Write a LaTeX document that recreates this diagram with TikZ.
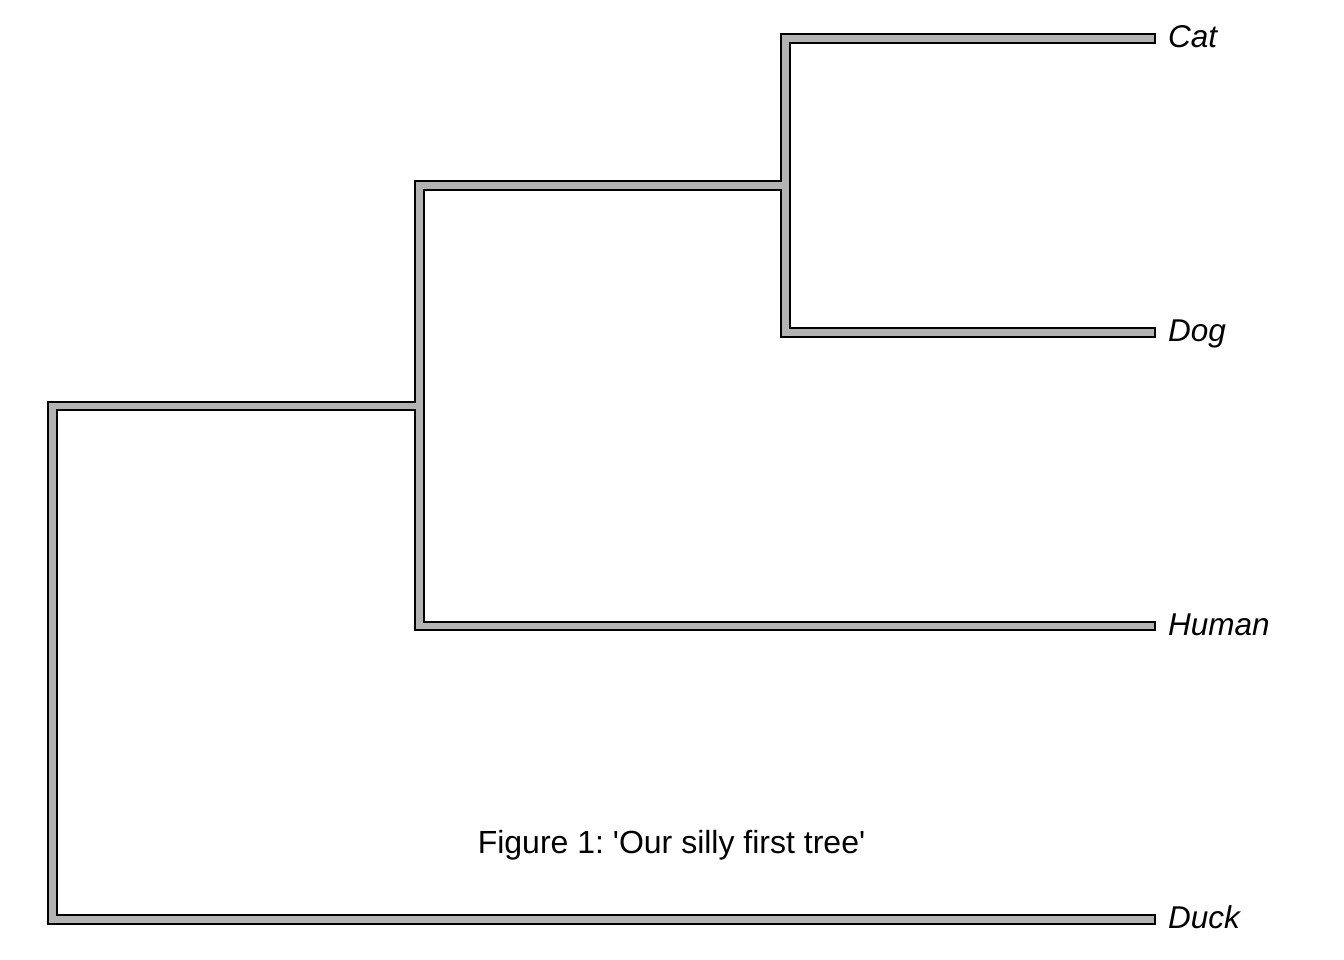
\documentclass[tikz,border=0pt]{standalone}
\usepackage{fontspec}
\setmainfont{Liberation Sans}
\newfontfamily\capfont{Liberation Sans}[Ligatures=TeXOff]
\definecolor{branchgray}{RGB}{179,179,179}
\frenchspacing
\tikzset{
  outerline/.style={draw=black, line width=10.5pt, line cap=rect, line join=miter},
  innerline/.style={draw=branchgray, line width=6.5pt, line cap=rect, line join=miter},
  tiplabel/.style={anchor=base west, inner sep=0pt, font=\fontsize{31.5}{36}\selectfont\itshape},
  captionlabel/.style={anchor=base, inner sep=0pt, font=\capfont\fontsize{32}{36}\selectfont}
}
\begin{document}
\begin{tikzpicture}[x=1pt, y=-1pt]
\useasboundingbox (0,0) rectangle (1344,960);
% internal nodes
\coordinate (root) at (52.5,663);
\coordinate (nodeH) at (419.5,406);
\coordinate (nodeCD) at (785.5,185.5);
% tips
\coordinate (catTip) at (1151,38.7);
\coordinate (dogTip) at (1151,332.3);
\coordinate (humanTip) at (1151,626);
\coordinate (duckTip) at (1151,919.7);
% labels
\node[tiplabel] (cat) at (1168,47.5) {Cat};
\node[tiplabel] (dog) at (1168,341) {Dog};
\node[tiplabel] (human) at (1168,635) {Human};
\node[tiplabel] (duck) at (1168,928.5) {Duck};
% branches
\foreach \layer in {outerline,innerline}{
  \draw[\layer] (root) |- (nodeH);
  \draw[\layer] (root) |- (duckTip);
  \draw[\layer] (nodeH) |- (nodeCD);
  \draw[\layer] (nodeH) |- (humanTip);
  \draw[\layer] (nodeCD) |- (catTip);
  \draw[\layer] (nodeCD) |- (dogTip);
}
\node[captionlabel] (caption) at (671.5,853) {Figure 1: 'Our silly first tree'};
\end{tikzpicture}
\end{document}
